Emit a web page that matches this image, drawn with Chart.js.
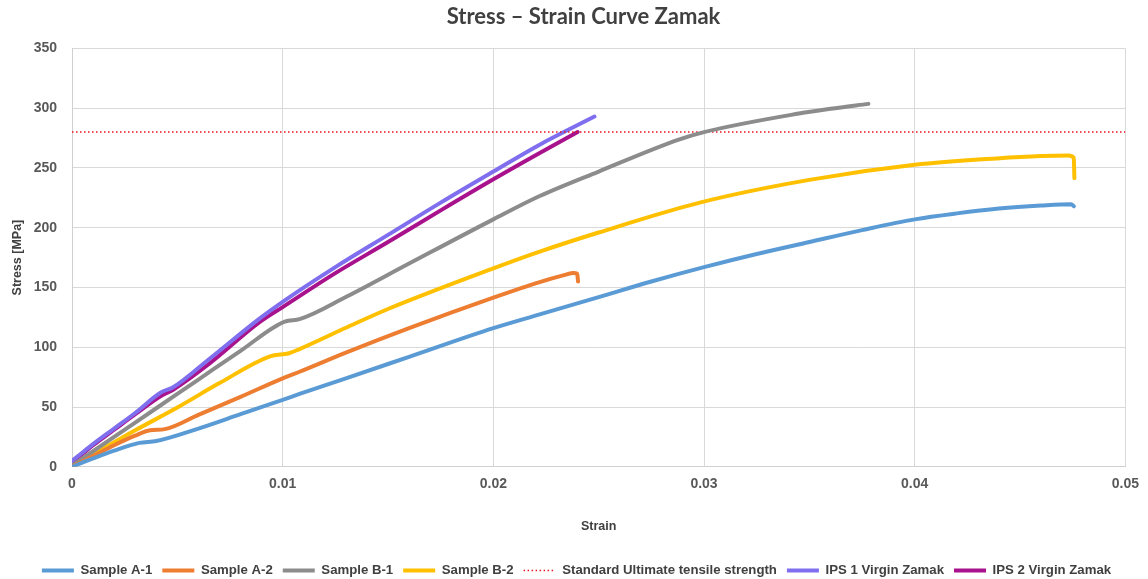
<!DOCTYPE html>
<html>
<head>
<meta charset="utf-8">
<script src="https://cdn.jsdelivr.net/npm/chart.js@4.4.1/dist/chart.umd.min.js"></script>
<style>
  html, body { margin: 0; padding: 0; background: #ffffff; }
  #wrap { width: 1148px; height: 579px; position: relative; }
</style>
</head>
<body>
<div id="wrap"><canvas id="c" width="1148" height="579"></canvas></div>
<script>
// ---- Data ----
const chartTitle = 'Stress \u2013 Strain Curve Zamak';
const xAxisTitle = 'Strain';
const yAxisTitle = 'Stress [MPa]';

const xTicks = [0, 0.01, 0.02, 0.03, 0.04, 0.05];
const xTickLabels = ['0', '0.01', '0.02', '0.03', '0.04', '0.05'];
const yTicks = [0, 50, 100, 150, 200, 250, 300, 350];
const yTickLabels = ['0', '50', '100', '150', '200', '250', '300', '350'];

const seriesNames = ['Sample A-1', 'Sample A-2', 'Sample B-1', 'Sample B-2',
  'Standard Ultimate tensile strength', 'IPS 1 Virgin Zamak', 'IPS 2 Virgin Zamak'];

const a1Strain = [0, 0.001, 0.002, 0.0032, 0.004, 0.006, 0.008, 0.010, 0.0108, 0.013, 0.016, 0.020, 0.0222, 0.025, 0.0275, 0.030, 0.0325, 0.035, 0.0375, 0.040, 0.042, 0.044, 0.046, 0.04743, 0.04755];
const a1Stress = [0, 7, 13.5, 20, 21.6, 32, 44, 56, 61, 74, 92, 116, 127.5, 142, 155, 167, 178, 188, 198, 207, 212, 216, 218.5, 219.6, 218];

const a2Strain = [0, 0.001, 0.002, 0.003, 0.0037, 0.0044, 0.006, 0.008, 0.010, 0.0108, 0.013, 0.016, 0.020, 0.0222, 0.0234, 0.0238, 0.02398, 0.02402];
const a2Stress = [0, 9, 18, 26, 30.5, 31.5, 43.5, 58.5, 74, 79.5, 95.5, 116, 141.5, 154.5, 160.5, 162.2, 161.5, 155];

const b1Strain = [0, 0.001, 0.002, 0.003, 0.004, 0.005, 0.006, 0.008, 0.0101, 0.0108, 0.013, 0.016, 0.020, 0.0222, 0.025, 0.0288, 0.030, 0.0345, 0.036, 0.0378];
const b1Stress = [1, 13, 25, 37, 49, 61, 73, 97, 121.5, 123.5, 142, 170, 207, 226.5, 247, 273.7, 280, 295.5, 299.5, 303.6];

const b2Strain = [0, 0.001, 0.002, 0.003, 0.005, 0.007, 0.0094, 0.0103, 0.0108, 0.013, 0.015, 0.020, 0.0222, 0.025, 0.0298, 0.035, 0.040, 0.0439, 0.046, 0.0473, 0.04755, 0.04758];
const b2Stress = [0, 10.5, 20.5, 30.5, 49.6, 70, 92.4, 95, 98.5, 116.3, 132, 166, 180, 196, 221, 240, 252.6, 258, 260, 260.5, 258.5, 241.5];

const standardUTS = 280;
const utsStrain = [0, 0.05];

const ips1Strain = [0, 0.0005, 0.001, 0.002, 0.003, 0.0042, 0.0048, 0.0065, 0.0089, 0.010, 0.0125, 0.015, 0.0175, 0.020, 0.0222, 0.0248];
const ips1Stress = [5, 12, 19, 32, 45, 62, 66.5, 90, 124, 138, 167, 194, 221, 247, 269.5, 293];

const ips2Strain = [0, 0.0005, 0.001, 0.002, 0.003, 0.0042, 0.0048, 0.0065, 0.0089, 0.010, 0.0125, 0.015, 0.0175, 0.020, 0.0222, 0.0240];
const ips2Stress = [4, 11, 18, 31, 44, 59, 64.5, 86, 121, 133.6, 162, 188, 214.5, 240.5, 262.5, 280];

const seriesColors = ['#5B9BD5', '#ED7D31', '#8C8C8C', '#FFC000', '#E8141E', '#7F6FEF', '#A8128C'];

// ---- Build datasets ----
const toXY = (xs, ys) => xs.map((x, i) => ({ x: x, y: ys[i] }));
const curves = [
  toXY(a1Strain, a1Stress),
  toXY(a2Strain, a2Stress),
  toXY(b1Strain, b1Stress),
  toXY(b2Strain, b2Stress),
  toXY(utsStrain, utsStrain.map(() => standardUTS)),
  toXY(ips1Strain, ips1Stress),
  toXY(ips2Strain, ips2Stress)
];

const datasets = curves.map((pts, i) => {
  const dotted = (i === 4);
  return {
    label: seriesNames[i],
    data: pts,
    borderColor: seriesColors[i],
    backgroundColor: seriesColors[i],
    borderWidth: dotted ? 1.5 : 4,
    borderDash: dotted ? [1.5, 2.5] : [],
    pointRadius: 0,
    pointHoverRadius: 0,
    showLine: true,
    fill: false,
    cubicInterpolationMode: dotted ? 'default' : 'monotone',
    tension: dotted ? 0 : 0.4,
    borderCapStyle: dotted ? 'butt' : 'round',
    borderJoinStyle: 'round'
  };
});

const FONT = "'Liberation Sans', Arial, sans-serif";

// shift title / legend horizontally to match the reference centering
const shiftBoxes = {
  id: 'shiftBoxes',
  afterLayout(chart) {
    if (chart.titleBlock) { chart.titleBlock.left += 20; chart.titleBlock.right += 20; }
    if (chart.legend) { chart.legend.left += 13; chart.legend.right += 13; }
  }
};

new Chart(document.getElementById('c'), {
  type: 'scatter',
  data: { datasets: datasets },
  plugins: [shiftBoxes],
  options: {
    responsive: false,
    animation: false,
    layout: { padding: { left: 0, right: 21, top: 0, bottom: -8 } },
    plugins: {
      tooltip: { enabled: false },
      title: {
        display: true,
        text: chartTitle,
        color: '#404040',
        font: { family: "Lato, 'Liberation Sans', sans-serif", size: 22, weight: 'bold' },
        padding: { top: 4, bottom: 18 }
      },
      legend: {
        position: 'bottom',
        labels: {
          usePointStyle: true,
          pointStyleWidth: 32,
          boxWidth: 32,
          padding: 10,
          color: '#404040',
          font: { family: FONT, size: 13.2, weight: 'bold' },
          generateLabels: (chart) => chart.data.datasets.map((ds, i) => ({
            text: ds.label,
            fillStyle: ds.borderColor,
            strokeStyle: ds.borderColor,
            fontColor: '#404040',
            lineWidth: i === 4 ? 1.5 : 4,
            lineDash: i === 4 ? [1.5, 2.5] : [],
            lineCap: 'butt',
            pointStyle: 'line',
            hidden: false,
            datasetIndex: i
          }))
        }
      }
    },
    scales: {
      x: {
        type: 'linear',
        min: xTicks[0],
        max: xTicks[xTicks.length - 1],
        afterBuildTicks: (s) => { s.ticks = xTicks.map(v => ({ value: v })); },
        afterFit: (s) => { s.height = 87; },
        ticks: {
          color: '#595959',
          font: { family: FONT, size: 14, weight: 'bold' },
          padding: 9,
          maxRotation: 0,
          autoSkip: false,
          callback: (v, i) => xTickLabels[i]
        },
        grid: { color: '#d9d9d9', lineWidth: 1, drawTicks: false },
        border: { color: '#d0d0d0', width: 1 },
        title: {
          display: true,
          text: xAxisTitle,
          color: '#404040',
          font: { family: FONT, size: 12.5, weight: 'bold' },
          padding: { top: 0, bottom: 20 }
        }
      },
      y: {
        type: 'linear',
        min: yTicks[0],
        max: yTicks[yTicks.length - 1],
        afterBuildTicks: (s) => { s.ticks = yTicks.map(v => ({ value: v })); },
        afterFit: (s) => { s.width = 72; },
        ticks: {
          color: '#595959',
          font: { family: FONT, size: 14, weight: 'bold' },
          padding: 15,
          autoSkip: false,
          callback: (v, i) => yTickLabels[i]
        },
        grid: { color: '#d9d9d9', lineWidth: 1, drawTicks: false },
        border: { color: '#d0d0d0', width: 1 },
        title: {
          display: true,
          text: yAxisTitle,
          color: '#404040',
          font: { family: FONT, size: 12.5, weight: 'bold' },
          padding: { top: 10, bottom: 0 }
        }
      }
    }
  }
});
</script>
</body>
</html>
